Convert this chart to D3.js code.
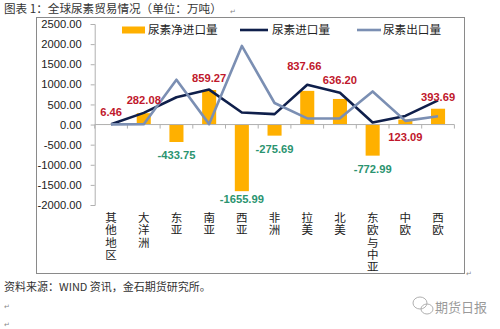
<!DOCTYPE html>
<html><head><meta charset="utf-8">
<script src="https://cdn.jsdelivr.net/npm/d3@7"></script>
<style>
html,body{margin:0;padding:0;background:#fff;}
svg{display:block;}
</style>
</head><body>
<script>
// ---- data ----
const categories = ["其他地区","大洋洲","东亚","南亚","西亚","非洲","拉美","北美","东欧与中亚","中欧","西欧"];
const netImport = [6.46, 282.08, -433.75, 859.27, -1655.99, -275.69, 837.66, 636.20, -772.99, 123.09, 393.69];
const importVol = [10, 290, 680, 870, 300, 260, 990, 790, 50, 215, 600];
const exportVol = [4, 8, 1114, 11, 1956, 536, 152, 154, 823, 92, 206];
const yTicks = [-2000, -1500, -1000, -500, 0, 500, 1000, 1500, 2000, 2500];
const seriesNames = ["尿素净进口量", "尿素进口量", "尿素出口量"];
// label nudges (layout only), px
const labelNudge = [[0,1],[0,0],[0,0],[0,1],[0,-5],[0,0],[-3,-6],[0,0],[0,0],[0,34],[0,10]];

const W = 500, H = 329;
const svg = d3.select("body").append("svg").attr("width", W).attr("height", H);
const font = "'Liberation Sans', Arial, sans-serif";
const cjk = "'Noto Sans CJK SC', sans-serif";
const fmt = d3.formatLocale({decimal: ".", thousands: ",", grouping: [3], currency: ["", ""], minus: "-"}).format(".2f");

// title
svg.append("text").attr("x", 4).attr("y", 13).attr("font-family", cjk).attr("font-size", 11.6)
  .attr("fill", "#333").text("图表 1：全球尿素贸易情况（单位：万吨）");
svg.append("text").attr("x", 230).attr("y", 14).attr("font-size", 7).attr("fill", "#888").text("↵");

// frame
svg.append("rect").attr("x", 36.5).attr("y", 17.5).attr("width", 428).attr("height", 256)
  .attr("fill", "#fff").attr("stroke", "#8a8a8a").attr("stroke-width", 1);
svg.append("text").attr("x", 466).attr("y", 276).attr("font-size", 7).attr("fill", "#888").text("↵");

const x = d3.scaleBand().domain(categories).range([94.7, 454.4]).paddingInner(0.57).paddingOuter(0.285);
const step = x.step();
const cx = c => x(c) + x.bandwidth() / 2;
const y = d3.scaleLinear().domain([-2000, 2500]).range([205, 24]);

// y axis
const yAxis = svg.append("g").attr("transform", "translate(94.7,0)")
  .call(d3.axisLeft(y).tickValues(yTicks).tickFormat(fmt).tickSize(4).tickPadding(9));
yAxis.select(".domain").attr("stroke", "#b0b0b0");
yAxis.selectAll(".tick line").attr("stroke", "#b0b0b0");
yAxis.selectAll("text").attr("font-family", font).attr("font-size", 11.2).attr("fill", "#222");

// bars
svg.append("g").selectAll("rect").data(categories).join("rect")
  .attr("x", (c) => x(c))
  .attr("width", x.bandwidth())
  .attr("y", (c, i) => y(Math.max(0, netImport[i])))
  .attr("height", (c, i) => Math.abs(y(netImport[i]) - y(0)))
  .attr("fill", "#ffb000");

// x axis at zero
const x0 = y(0);
const xg = svg.append("g");
xg.append("line").attr("x1", 94.7).attr("x2", 454.4).attr("y1", x0).attr("y2", x0).attr("stroke", "#b0b0b0");
const bounds = categories.map(c => x(c) - (step - x.bandwidth()) / 2).concat([454.4]);
xg.selectAll("line.t").data(bounds).join("line").attr("class", "t")
  .attr("x1", d => d).attr("x2", d => d).attr("y1", x0).attr("y2", x0 + 4).attr("stroke", "#b0b0b0");

// lines
const lineGen = d3.line().x((d, i) => cx(categories[i])).y(d => y(d));
svg.append("path").datum(importVol).attr("d", lineGen).attr("fill", "none")
  .attr("stroke", "#0f1f4b").attr("stroke-width", 2.6).attr("stroke-linejoin", "round");
svg.append("path").datum(exportVol).attr("d", lineGen).attr("fill", "none")
  .attr("stroke", "#7b8fb3").attr("stroke-width", 2.6).attr("stroke-linejoin", "round");

// data labels
svg.append("g").selectAll("text").data(categories).join("text")
  .attr("x", (c, i) => cx(c) + labelNudge[i][0])
  .attr("y", (c, i) => {
    const v = netImport[i];
    let yc;
    if (v >= 0) yc = Math.min(y(v), y(importVol[i])) - 13;
    else yc = y(v) + 13;
    return yc + labelNudge[i][1] + 4;
  })
  .attr("text-anchor", "middle").attr("font-family", font).attr("font-weight", "bold").attr("font-size", 11.2)
  .attr("fill", (c, i) => netImport[i] >= 0 ? "#c0182c" : "#2b9470")
  .text((c, i) => fmt(netImport[i]));

// category labels (vertical writing mode)
svg.append("g").selectAll("text").data(categories).join("text")
  .attr("x", c => cx(c)).attr("y", 212)
  .attr("font-family", cjk).attr("font-size", 11.5).attr("fill", "#222")
  .style("writing-mode", "vertical-rl").style("letter-spacing", "0.7px")
  .text(c => c);

// legend
const lg = svg.append("g").attr("font-family", cjk).attr("font-size", 11.6).attr("fill", "#222");
lg.append("rect").attr("x", 122).attr("y", 26.5).attr("width", 23).attr("height", 7).attr("fill", "#ffb000");
lg.append("text").attr("x", 148).attr("y", 34).text(seriesNames[0]);
lg.append("line").attr("x1", 240).attr("x2", 268).attr("y1", 30).attr("y2", 30).attr("stroke", "#0f1f4b").attr("stroke-width", 2.6);
lg.append("text").attr("x", 272).attr("y", 34).text(seriesNames[1]);
lg.append("line").attr("x1", 357).attr("x2", 381).attr("y1", 30).attr("y2", 30).attr("stroke", "#7b8fb3").attr("stroke-width", 2.6);
lg.append("text").attr("x", 383).attr("y", 34).text(seriesNames[2]);

// source
svg.append("text").attr("x", 4).attr("y", 291).attr("font-family", cjk).attr("font-size", 11)
  .attr("fill", "#333").text("资料来源：WIND 资讯，金石期货研究所。");
svg.append("text").attr("x", 4).attr("y", 309).attr("font-size", 7).attr("fill", "#888").text("↵");
svg.append("text").attr("x", 4).attr("y", 327).attr("font-size", 7).attr("fill", "#888").text("↵");

// watermark
const wm = svg.append("g").attr("fill", "none").attr("stroke", "#b0b0b0").attr("stroke-width", 1);
wm.append("ellipse").attr("cx", 420).attr("cy", 303).attr("rx", 7).attr("ry", 6);
wm.append("ellipse").attr("cx", 427).attr("cy", 309).attr("rx", 6).attr("ry", 5);
svg.append("text").attr("x", 435).attr("y", 312).attr("font-family", cjk).attr("font-size", 13)
  .attr("fill", "#9a9a9a").text("期货日报");
</script>
</body></html>
